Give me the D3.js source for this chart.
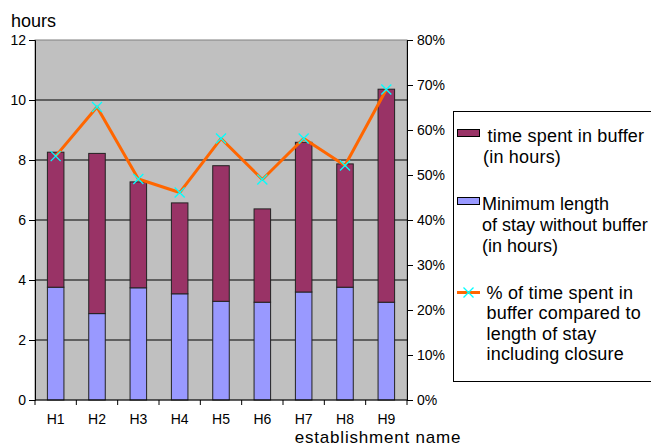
<!DOCTYPE html>
<html>
<head>
<meta charset="utf-8">
<script src="https://cdn.jsdelivr.net/npm/d3@7"></script>
<style>
  html, body { margin: 0; padding: 0; background: #fff; }
  svg { display: block; font-family: Arial, "Liberation Sans", sans-serif; }
</style>
</head>
<body>
<svg id="chart" width="651" height="446"></svg>
<script>
const categories = ["H1","H2","H3","H4","H5","H6","H7","H8","H9"];
const minStay = [3.76, 2.88, 3.74, 3.54, 3.29, 3.26, 3.60, 3.76, 3.26];
const bufferTime = [4.50, 5.34, 3.53, 3.03, 4.52, 3.11, 4.99, 4.11, 7.10];
const pctBuffer = [54.2, 65.1, 49.1, 46.1, 58.1, 49.0, 58.1, 52.1, 69.0];
const hourTicks = [0, 2, 4, 6, 8, 10, 12];
const pctTicks = [0, 10, 20, 30, 40, 50, 60, 70, 80];
const legendLabels = [
  ["time spent in buffer", "(in hours)"],
  ["Minimum length", "of stay without buffer", "(in hours)"],
  ["% of time spent in", "buffer compared to", "length of stay", "including closure"]
];

const svg = d3.select("#chart");
const L = 35, R = 407, T = 40, B = 400;
const colBuffer = "#993366", colMin = "#9999FF", colLine = "#FF6600", colMark = "#00FFFF";

const x = d3.scaleBand().domain(categories).range([L, R]).paddingInner(0.6).paddingOuter(0.3);
const y = d3.scaleLinear().domain([0, 12]).range([B, T]);
const y2 = d3.scaleLinear().domain([0, 80]).range([B, T]);

// plot background
svg.append("rect").attr("x", L).attr("y", T).attr("width", R - L).attr("height", B - T)
  .attr("fill", "#C0C0C0").attr("stroke", "#808080").attr("stroke-width", 1);

// gridlines
svg.append("g").selectAll("line").data(hourTicks.filter(d => d > 0 && d < 12)).join("line")
  .attr("x1", L).attr("x2", R).attr("y1", d => y(d)).attr("y2", d => y(d))
  .attr("stroke", "#000").attr("stroke-width", 1);

// bars
const stackData = categories.map((c, i) => ({ cat: c, min: minStay[i], buf: bufferTime[i] }));
const series = d3.stack().keys(["min", "buf"])(stackData);
const colors = { min: colMin, buf: colBuffer };
svg.append("g").selectAll("g").data(series).join("g")
  .attr("fill", d => colors[d.key])
  .selectAll("rect").data(d => d).join("rect")
  .attr("x", d => x(d.data.cat)).attr("width", x.bandwidth())
  .attr("y", d => y(d[1])).attr("height", d => y(d[0]) - y(d[1]))
  .attr("stroke", "#222").attr("stroke-width", 1);

// left axis
const yAxis = d3.axisLeft(y).tickValues(hourTicks).tickSize(6).tickPadding(3).tickFormat(d3.format("d"));
const gy = svg.append("g").attr("transform", `translate(${L},0)`).call(yAxis);
gy.selectAll("text").attr("font-size", 14).attr("fill", "#000");
gy.selectAll("line").attr("stroke", "#000");
gy.select(".domain").attr("stroke", "#000");

// right axis
const y2Axis = d3.axisRight(y2).tickValues(pctTicks).tickSize(6).tickPadding(4).tickFormat(d => d + "%");
const gy2 = svg.append("g").attr("transform", `translate(${R},0)`).call(y2Axis);
gy2.selectAll("text").attr("font-size", 14).attr("fill", "#000");
gy2.selectAll("line").attr("stroke", "#000");
gy2.select(".domain").attr("stroke", "#000");

// x axis
const gx = svg.append("g");
gx.append("line").attr("x1", L).attr("x2", R).attr("y1", B).attr("y2", B).attr("stroke", "#000");
const step = x.step();
const boundaries = d3.range(categories.length + 1).map(i => L + i * step);
gx.selectAll("line.tk").data(boundaries).join("line").attr("class", "tk")
  .attr("x1", d => d).attr("x2", d => d).attr("y1", B).attr("y2", B + 5).attr("stroke", "#000");
gx.selectAll("text").data(categories).join("text")
  .attr("x", d => x(d) + x.bandwidth() / 2).attr("y", 424)
  .attr("text-anchor", "middle").attr("font-size", 14).text(d => d);

// line series
const lineGen = d3.line().x((d, i) => x(categories[i]) + x.bandwidth() / 2).y(d => y2(d));
svg.append("path").datum(pctBuffer).attr("d", lineGen)
  .attr("fill", "none").attr("stroke", colLine).attr("stroke-width", 3).attr("stroke-linejoin", "round");
const mk = 5;
const marks = svg.append("g").selectAll("g").data(pctBuffer).join("g")
  .attr("transform", (d, i) => `translate(${x(categories[i]) + x.bandwidth() / 2},${y2(d)})`);
marks.append("path").attr("d", `M${-mk},${-mk}L${mk},${mk}M${-mk},${mk}L${mk},${-mk}`)
  .attr("stroke", colMark).attr("stroke-width", 1.3).attr("fill", "none");

// titles
svg.append("text").attr("x", 11).attr("y", 27).attr("font-size", 18).text("hours");
svg.append("text").attr("x", 378).attr("y", 443).attr("text-anchor", "middle")
  .attr("font-size", 17).attr("letter-spacing", 0.8).text("establishment name");

// legend
const lg = svg.append("g");
lg.append("rect").attr("x", 453.5).attr("y", 111.5).attr("width", 220).attr("height", 270)
  .attr("fill", "#fff").attr("stroke", "#000").attr("stroke-width", 1);
// entry 1
lg.append("rect").attr("x", 457.5).attr("y", 129.5).attr("width", 22).attr("height", 7)
  .attr("fill", colBuffer).attr("stroke", "#000");
lg.append("text").attr("font-size", 18).attr("letter-spacing", 0.2).selectAll("tspan").data(legendLabels[0]).join("tspan")
  .attr("x", (d, i) => i === 0 ? 487.5 : 483).attr("y", (d, i) => 141.5 + i * 21.3).text(d => d);
// entry 2
lg.append("rect").attr("x", 457.5).attr("y", 197.5).attr("width", 22).attr("height", 7)
  .attr("fill", colMin).attr("stroke", "#000");
lg.append("text").attr("font-size", 18).selectAll("tspan").data(legendLabels[1]).join("tspan")
  .attr("x", 482).attr("y", (d, i) => 210 + i * 21).text(d => d);
// entry 3
lg.append("line").attr("x1", 457).attr("x2", 480).attr("y1", 292.5).attr("y2", 292.5)
  .attr("stroke", colLine).attr("stroke-width", 3);
lg.append("path").attr("transform", "translate(468.5,292.5)")
  .attr("d", `M${-mk},${-mk}L${mk},${mk}M${-mk},${mk}L${mk},${-mk}`)
  .attr("stroke", colMark).attr("stroke-width", 1.3);
lg.append("text").attr("font-size", 18).attr("letter-spacing", 0.2).selectAll("tspan").data(legendLabels[2]).join("tspan")
  .attr("x", 486.5).attr("y", (d, i) => 298.5 + i * 20.6).text(d => d);
</script>
</body>
</html>
